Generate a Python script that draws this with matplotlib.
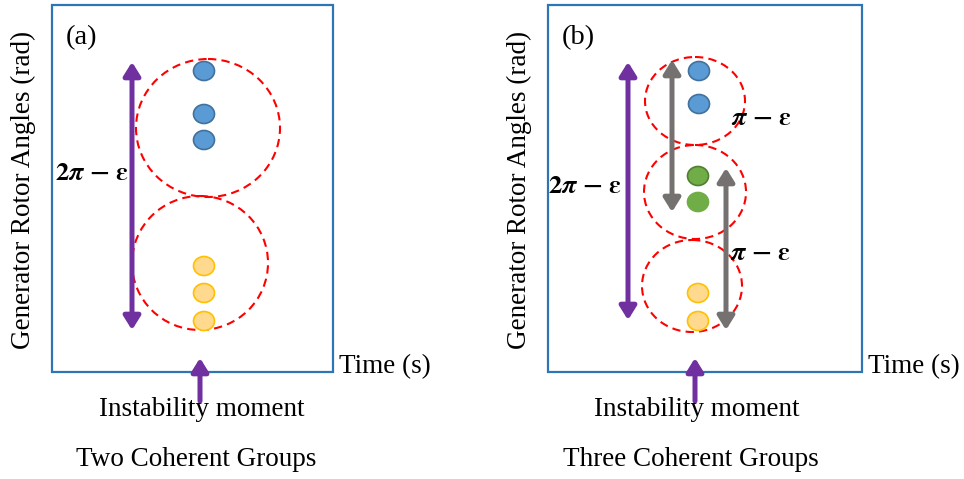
"""Schematic of rotor-angle separation into coherent generator groups."""

import matplotlib

matplotlib.use("Agg")
import matplotlib.pyplot as plt
from matplotlib.patches import Ellipse, Rectangle, FancyArrowPatch, ArrowStyle

plt.rcParams["font.family"] = ["Liberation Serif", "DejaVu Serif"]
plt.rcParams["mathtext.fontset"] = "stix"

W, H = 964, 479

# panel frames (left, top, right, bottom) in pixels
frames = [(52, 5, 333, 372), (548, 5, 862, 372)]
panel_tags = ["(a)", "(b)"]
captions = ["Two Coherent Groups", "Three Coherent Groups"]

# group boundaries: (x, y, rx, ry)
groups_a = [(208, 128, 72, 69), (200, 263, 68, 67)]
groups_b = [(695, 101, 50, 44), (695, 192, 51, 47), (692, 286, 50, 46)]

# generator dots: (x, y, kind)
dots_a = [(204, 71, "blue"), (204, 114, "blue"), (204, 140, "blue"),
          (204, 266, "orange"), (204, 293, "orange"), (204, 321, "orange")]
dots_b = [(699, 71, "blue"), (699, 104, "blue"),
          (698, 176, "green_dark"), (698, 202, "green"),
          (698, 293, "orange"), (698, 321, "orange")]

# spread arrows: (x, y_top, y_bottom)
spread_2pi = [(132, 62, 330), (628, 62, 320)]
spread_pi = [(672, 60, 212), (726, 168, 330)]
label_2pi = [(92, 174), (585, 187)]
label_pi = [(761, 119), (760, 254)]
moment_x = [200, 695]

DOT_STYLE = {
    "blue": ("#5b9bd5", "#41719c"),
    "green": ("#70ad47", "#70ad47"),
    "green_dark": ("#70ad47", "#507e32"),
    "orange": ("#ffd98e", "#ffc000"),
}
PURPLE = "#7030a0"
GREY = "#767171"
FRAME = "#2e75b6"


def arrow(ax, x, y0, y1, color, style="<|-|>"):
    ax.add_patch(FancyArrowPatch(
        (x, y0), (x, y1),
        arrowstyle=ArrowStyle(style, head_length=8, head_width=5),
        mutation_scale=1, color=color, lw=3.6, shrinkA=0, shrinkB=0,
    ))


def main():
    fig = plt.figure(figsize=(W / 100, H / 100), dpi=100)
    ax = fig.add_axes([0, 0, 1, 1])
    ax.set_xlim(0, W)
    ax.set_ylim(H, 0)
    ax.axis("off")

    for (l, t, r, b), tag, cap, mx in zip(frames, panel_tags, captions, moment_x):
        ax.add_patch(Rectangle((l, t), r - l, b - t, fill=False, ec=FRAME, lw=1.6))
        ax.text(l + 14, 38, tag, fontsize=20.5, va="center", ha="left")
        ax.text(l - 29, 190, "Generator Rotor Angles (rad)", fontsize=19.5,
                rotation=90, va="center", ha="center")
        ax.text(r + 6, 367, "Time (s)", fontsize=19.5, va="center", ha="left")
        arrow(ax, mx, 401, 358, PURPLE, style="-|>")
        ax.text(mx + 2, 410, "Instability moment", fontsize=19.5, va="center", ha="center")
        ax.text(mx - 4, 460, cap, fontsize=19.5, va="center", ha="center")

    for x, y, rx, ry in groups_a + groups_b:
        ax.add_patch(Ellipse((x, y), 2 * rx, 2 * ry, fill=False, ec="#ff0000",
                             lw=1.5, ls=(0, (4, 2.5))))

    for x, y, kind in dots_a + dots_b:
        fc, ec = DOT_STYLE[kind]
        ax.add_patch(Ellipse((x, y), 21, 19, fc=fc, ec=ec, lw=1.2))

    for x, y0, y1 in spread_2pi:
        arrow(ax, x, y0, y1, PURPLE)
    for x, y0, y1 in spread_pi:
        arrow(ax, x, y0, y1, GREY)

    two_pi = r"$\mathbf{2}\boldsymbol{\pi}\ \mathbf{-}\ \boldsymbol{\varepsilon}$"
    one_pi = r"$\boldsymbol{\pi}\ \mathbf{-}\ \boldsymbol{\varepsilon}$"
    for x, y in label_2pi:
        ax.text(x, y, two_pi, fontsize=19, va="center", ha="center")
    for x, y in label_pi:
        ax.text(x, y, one_pi, fontsize=19, va="center", ha="center")

    fig.savefig("out.png", dpi=100)
    plt.close(fig)


if __name__ == "__main__":
    main()
